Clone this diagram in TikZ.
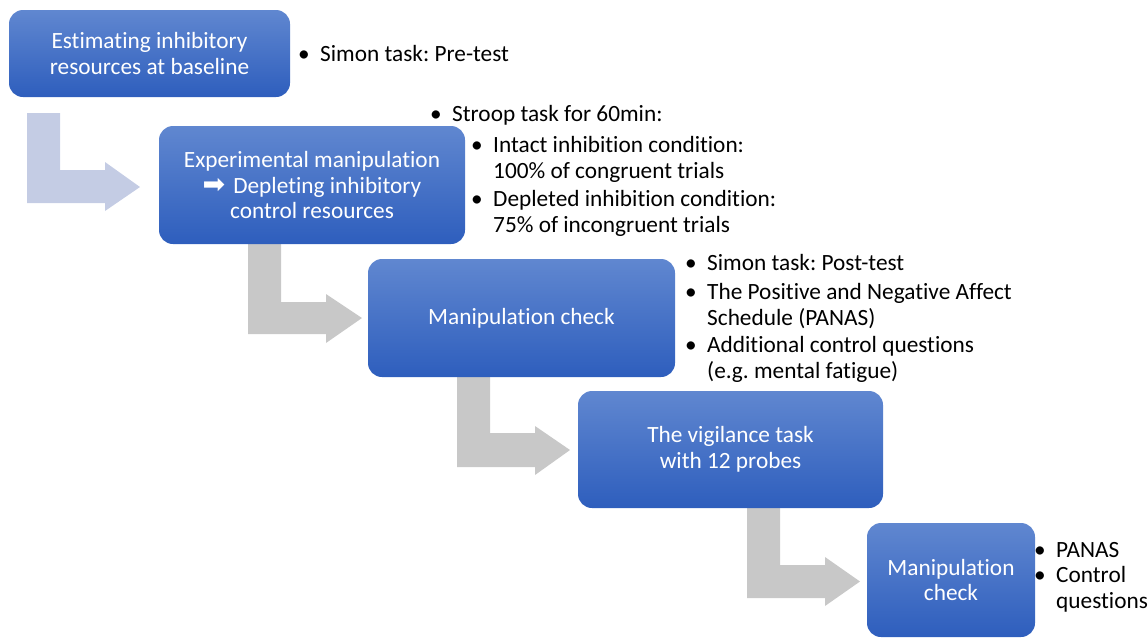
\documentclass[tikz,border=0pt]{standalone}
\usepackage{fontspec}
\setmainfont{Carlito}[Ligatures={NoCommon}]
\newfontfamily\symfont{DejaVu Sans}
\definecolor{boxtop}{RGB}{96,135,208}
\definecolor{boxbot}{RGB}{46,94,189}
\definecolor{arrblue}{RGB}{196,204,228}
\definecolor{arrgray}{RGB}{200,200,200}
\newcommand\fs{\fontsize{23.3}{25.8}\selectfont\frenchspacing}
\newcommand\mybul{\llap{•\hspace{10.5pt}}}
\tikzset{
  box/.style={rounded corners=14pt, top color=boxtop, bottom color=boxbot, draw=none,
              text=white, align=center, font=\fs, inner sep=0pt},
  arrowshape/.style={draw=none},
  txt/.style={anchor=base west, align=left, font=\fs, inner sep=0pt, text=black}
}
\begin{document}
\frenchspacing
\begin{tikzpicture}[x=1pt,y=-1pt]
\useasboundingbox (0,0) rectangle (1148,638);
% block arrows
\fill[arrowshape, arrblue] (27,113) -- (60,113) -- (60,170) -- (105,170) -- (105,162) -- (140,187) -- (105,211) -- (105,203) -- (27,203) -- cycle;
\fill[arrowshape, arrgray] (248,244) -- (281,244) -- (281,302) -- (326,302) -- (326,294) -- (362,318) -- (326,343) -- (326,334) -- (248,334) -- cycle;
\fill[arrowshape, arrgray] (457,377) -- (490,377) -- (490,433) -- (535,433) -- (535,426) -- (570,450) -- (535,475) -- (535,467) -- (457,467) -- cycle;
\fill[arrowshape, arrgray] (747,508) -- (780,508) -- (780,565) -- (825,565) -- (825,557) -- (860,581.5) -- (825,606) -- (825,598) -- (747,598) -- cycle;
% boxes
\node[box, minimum width=281pt, minimum height=87pt] (b1) at (149.5,53.5) {Estimating inhibitory\\resources at baseline};
\node[box, minimum width=306pt, minimum height=118pt] (b2) at (312,185) {Experimental manipulation\\{\symfont\fontsize{27}{20}\selectfont ➡}\hspace{8pt}Depleting inhibitory\\control resources};
\node[box, minimum width=307pt, minimum height=118pt] (b3) at (521.5,318) {Manipulation check};
\node[box, minimum width=305pt, minimum height=117pt] (b4) at (730.5,449.5) {The vigilance task\\with 12 probes};
\node[box, minimum width=168pt, minimum height=114pt] (b5) at (951,580) {Manipulation\\check};
% texts (base anchor = baseline of last line)
\node[txt] (t1) at (320,61) {\mybul Simon task: Pre-test};
\node[txt] (t2a) at (452,121) {\mybul Stroop task for 60min:};
\node[txt] (t2b) at (493,178) {\mybul Intact inhibition condition:\\100\% of congruent trials};
\node[txt] (t2c) at (493,232) {\mybul Depleted inhibition condition:\\75\% of incongruent trials};
\node[txt] (t3a) at (707,270) {\mybul Simon task: Post-test};
\node[txt] (t3b) at (707,325) {\mybul The Positive and Negative Affect\\Schedule (PANAS)};
\node[txt] (t3c) at (707,378) {\mybul Additional control questions\\(e.g. mental fatigue)};
\node[txt] (t5a) at (1056,557) {\mybul PANAS};
\node[txt] (t5b) at (1056,608) {\mybul Control\\questions};
\end{tikzpicture}
\end{document}
